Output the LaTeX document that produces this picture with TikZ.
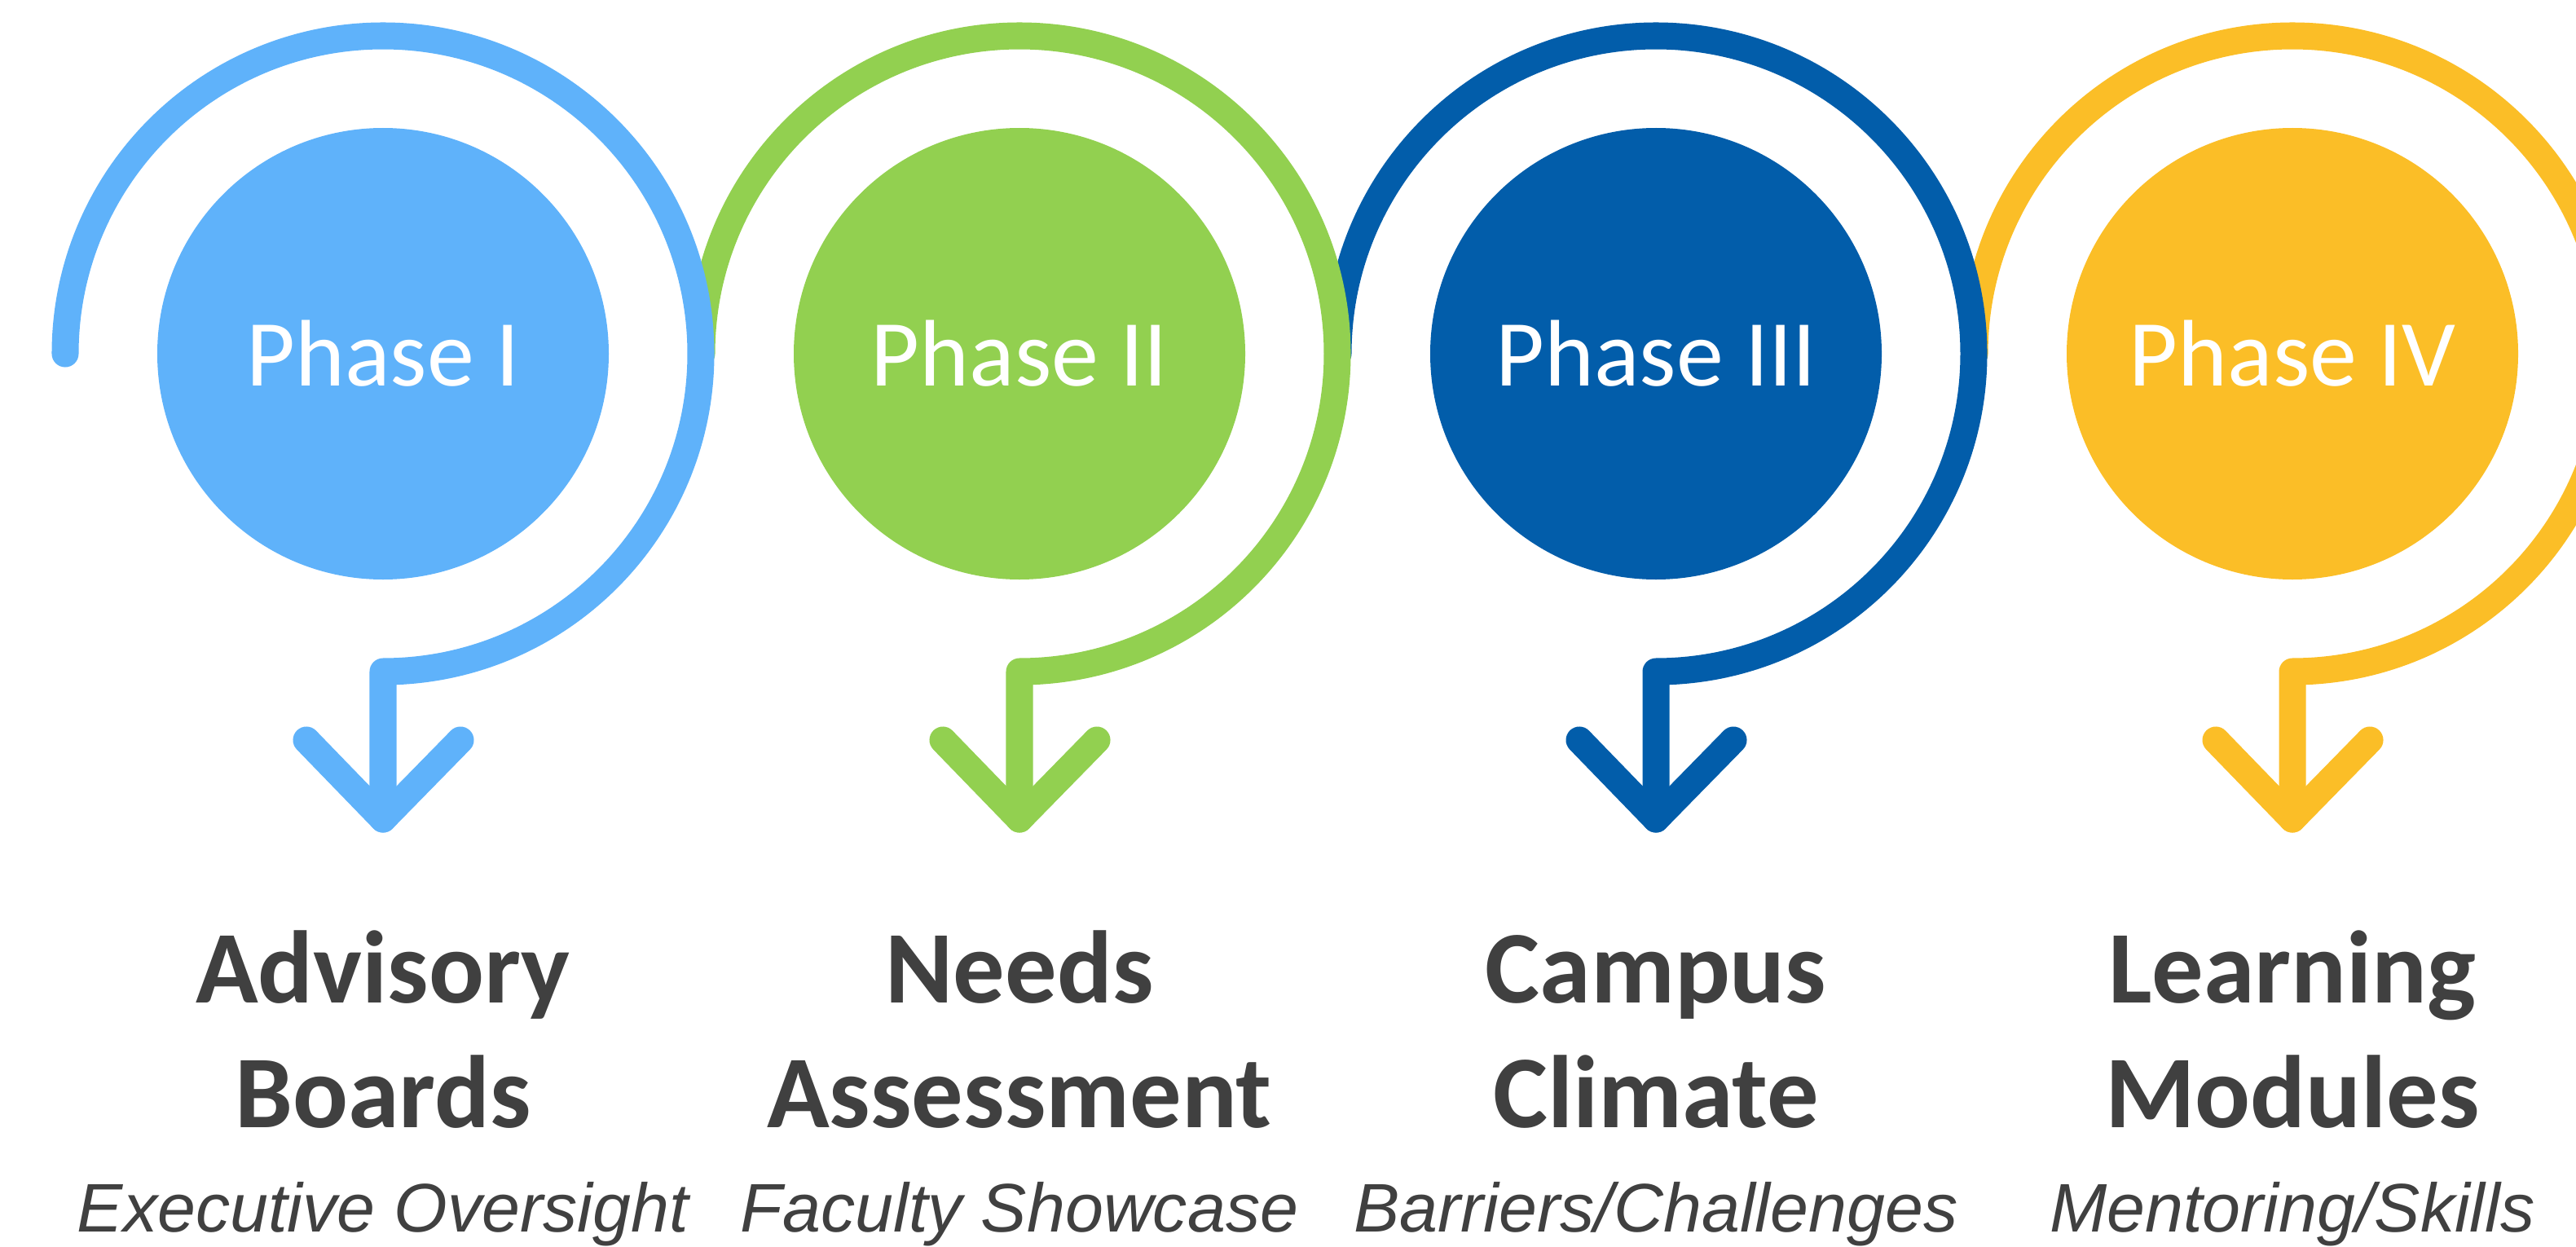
\documentclass[tikz,border=0pt]{standalone}
\usepackage{fontspec}
\setmainfont{Carlito}
\newfontfamily\arialfont{Liberation Sans}

\definecolor{phaseblue}{HTML}{5FB2FA}
\definecolor{phasegreen}{HTML}{92D050}
\definecolor{phasenavy}{HTML}{025DAA}
\definecolor{phaseyellow}{HTML}{FBBE27}
\definecolor{textgray}{HTML}{404040}

\begin{document}
\begin{tikzpicture}[
  ring/.style={line width=9.4pt, line cap=round, line join=round},
  disc/.style={circle, minimum size=5.54cm, inner sep=0pt, text=white,
    font=\fontsize{33}{39}\selectfont},
  title/.style={align=center, text=textgray,
    font=\fontsize{36}{43.4}\selectfont\bfseries},
  subtitle/.style={text=textgray, font=\arialfont\itshape\fontsize{24}{28}\selectfont},
]
\useasboundingbox (0,0) rectangle (31.61,-15.30);
\clip (0,0) rectangle (31.61,-15.30);

% phases drawn right to left, so each arm lies on top of the next one
\foreach \i/\num/\col/\head/\sub in {
    4/IV/phaseyellow/{Learning\\Modules}/{Mentoring/Skills},
    3/III/phasenavy/{Campus\\Climate}/{Barriers/Challenges},
    2/II/phasegreen/{Needs\\Assessment}/{Faculty Showcase},
    1/I/phaseblue/{Advisory\\Boards}/{Executive Oversight}}{
  \begin{scope}[shift={({4.70+7.81*(\i-1)},-4.34)}]
    % spiral arm ending in a downward arrow
    \coordinate (start-\i) at (-3.90,0);
    \coordinate (tip-\i) at (0,-5.71);
    \draw[ring, \col] (start-\i) arc[start angle=180, end angle=-90, radius=3.90] -- (tip-\i);
    \draw[ring, \col] (-0.94,-4.74) -- (tip-\i) -- (0.95,-4.74);

    \node[disc, fill=\col] (disc-\i) at (0,0) {Phase \num};

    % labels below the arrow (base = last line)
    \node[title, anchor=base] (title-\i) at (0,-9.49) {\head};
    \node[subtitle, anchor=base] (sub-\i) at (0,-10.77) {\sub};
  \end{scope}
}

\end{tikzpicture}
\end{document}
